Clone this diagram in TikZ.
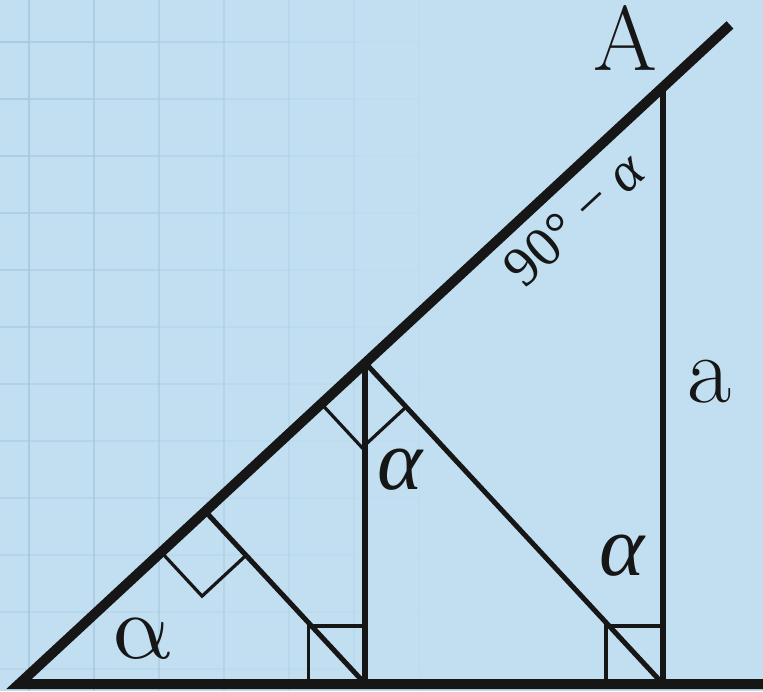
\documentclass[tikz,border=0pt]{standalone}
\usepackage{fontspec}
\newfontfamily\lserif{Liberation Serif}
\newfontfamily\lmmath{Latin Modern Math}
\usetikzlibrary{calc}
\definecolor{bg}{HTML}{C1DFF1}
\definecolor{gridc}{HTML}{A4C8DF}
\definecolor{ink}{HTML}{161616}
\begin{document}
\begin{tikzpicture}[x=0.5pt,y=-0.5pt,
  heavy/.style={draw=ink,line width=5pt,line join=miter},
  vert/.style={draw=ink,line width=3pt},
  perp/.style={draw=ink,line width=2.5pt},
  ramark/.style={draw=ink,line width=1.6pt},
  lbl/.style={text=ink,inner sep=0pt}]
\fill[bg] (0,0) rectangle (763,691);
\useasboundingbox (0,0) rectangle (763,691);
% faint grid
\foreach \k in {0,...,7}{
  \pgfmathsetmacro\op{max(0,0.8-0.12*\k)}
  \draw[gridc,line width=1pt,opacity=\op] ({29+65*\k},0) -- ({29+65*\k},691);
}
\foreach \r in {0,...,11}{
  \foreach \k in {0,...,8}{
    \pgfmathsetmacro\op{max(0,(0.8-0.12*\k)*(1-0.05*\r))}
    \draw[gridc,line width=1pt,opacity=\op] ({-36+65*\k},{42+57*\r}) -- ({29+65*\k},{42+57*\r});
  }
}
% geometry
\coordinate (O) at (19,684);
\coordinate (A) at (663,87);
\coordinate (B) at (663,684);
\coordinate (E) at ($(O)!1.104!(A)$);
\coordinate (Rt) at (763,684);
\coordinate (P) at ($(O)!(B)!(A)$);
\coordinate (Q) at (P |- B);
\coordinate (R) at ($(O)!(Q)!(A)$);
% right-angle marks
\coordinate (p1) at ($(P)!30pt!(O)$);
\coordinate (p2) at ($(P)!30pt!(B)$);
\coordinate (p3) at ($(p1)+(p2)-(P)$);
\draw[ramark] (p1) -- (p3) -- (p2);
\coordinate (r1) at ($(R)!30pt!(O)$);
\coordinate (r2) at ($(R)!30pt!(Q)$);
\coordinate (r3) at ($(r1)+(r2)-(R)$);
\draw[ramark] (r1) -- (r3) -- (r2);
\coordinate (q1) at ($(Q)+(-57,0)$);
\coordinate (q2) at ($(Q)+(-57,-58)$);
\coordinate (q3) at ($(Q)+(0,-58)$);
\draw[ramark] (q1) -- (q2) -- (q3);
\coordinate (b1) at ($(B)+(-57,0)$);
\coordinate (b2) at ($(B)+(-57,-58)$);
\coordinate (b3) at ($(B)+(0,-58)$);
\draw[ramark] (b1) -- (b2) -- (b3);
% lines
\draw[perp] (P) -- (B);
\draw[perp] (R) -- (Q);
\draw[vert] (P) -- (Q);
\draw[vert] (A) -- (B);
\draw[heavy] (Rt) -- (O) -- (E);
% labels
\node[lbl,font=\fontsize{46}{46}\selectfont] (lA) at (625,38) {A};
\node[lbl,font=\fontsize{48}{48}\selectfont] (la) at (710,382) {a};
\node[lbl,font=\lserif\itshape\fontsize{43}{43}\selectfont] (al1) at (400,470) {α};
\node[lbl,font=\lserif\itshape\fontsize{43}{43}\selectfont] (al2) at (622,556) {α};
\node[lbl,font=\lmmath\fontsize{46}{46}\selectfont] (al0) at (141,639) {α};
\node[lbl,rotate=42.74,font=\lserif\fontsize{28}{28}\selectfont] (ang) at (574,219) {90° − {\itshape α}};
\end{tikzpicture}
\end{document}
